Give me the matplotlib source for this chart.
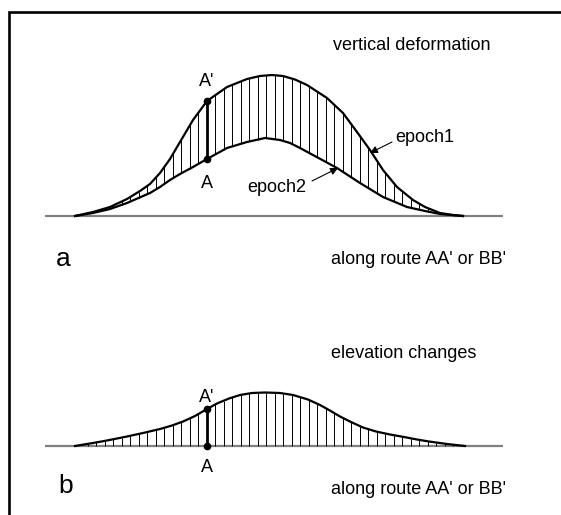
import numpy as np
import matplotlib
matplotlib.use("Agg")
import matplotlib.pyplot as plt
from matplotlib.lines import Line2D

plt.rcParams['font.family'] = ['Liberation Sans', 'DejaVu Sans']

# ---- data (distance along route, height above reference line) ----
route_epoch1 = [0, 18, 35, 52, 65, 75, 85, 95, 105, 118, 132, 152, 172, 185,
                197, 208, 220, 232, 252, 268, 282, 295, 308, 322, 338, 350,
                365, 378, 388]
epoch1 = [0, 4, 9, 17, 25, 32, 43, 57, 74, 96, 115, 129, 137, 140,
          141, 140, 136.5, 131, 118, 103, 84, 66, 46, 29, 16, 9,
          3, 1, 0]

route_epoch2 = [0, 18, 35, 52, 75, 85, 95, 105, 118, 132, 152, 172, 190,
                205, 215, 225, 238, 262, 285, 308, 332, 350, 365, 388]
epoch2 = [0, 3, 7, 13, 23, 29, 36, 42, 49, 57, 68, 74, 78,
          76, 73, 68, 61, 48, 33, 19, 9, 5, 2, 0]

route_elev = [0, 18, 32, 52, 68, 85, 97, 108, 120, 132, 142, 154, 165, 177,
              190, 205, 218, 233, 245, 254, 265, 276, 288, 301, 315, 329,
              342, 354, 372, 390]
elev_change = [0, 3, 5.5, 9.5, 13, 17, 20.5, 24.5, 30, 37, 42.5, 47.5, 51, 53,
               53.5, 53, 51, 46.5, 41, 36, 29.5, 24, 18.5, 14.5, 11.5, 9,
               6.5, 4.5, 2, 0]

point_A = 132
baseline_span = [-30, 428]

title_a = "vertical deformation"
title_b = "elevation changes"
xlabel = "along route AA' or BB'"

# ---- style ----
W, H, DPI = 561, 515, 100
hatch_step = 8.5
fs = 13
fs_big = 19

fig = plt.figure(figsize=(W / DPI, H / DPI), dpi=DPI)
fig.patch.set_facecolor('white')

def px_ax(top, bottom):
    return fig.add_axes([0, 1 - bottom / H, 1, (bottom - top) / H])

ax_a = px_ax(0, 260)
ax_a.set_xlim(-75, W - 75)
ax_a.set_ylim(-44, 216)
ax_b = px_ax(260, 515)
ax_b.set_xlim(-75, W - 75)
ax_b.set_ylim(-69, 186)
for ax in (ax_a, ax_b):
    ax.set_axis_off()

hatch_x = point_A + hatch_step * np.arange(-15, 31)

# panel a
ax_a.plot(baseline_span, [0, 0], color='#808080', lw=1.6, solid_capstyle='butt')
lo = np.interp(hatch_x, route_epoch2, epoch2)
hi = np.interp(hatch_x, route_epoch1, epoch1)
m = (hi - lo) > 0.8
ax_a.vlines(hatch_x[m], lo[m], hi[m], color='black', lw=0.7)
ax_a.plot(route_epoch1, epoch1, color='black', lw=1.6, solid_joinstyle='round')
ax_a.plot(route_epoch2, epoch2, color='black', lw=1.6, solid_joinstyle='round')
yA1 = np.interp(point_A, route_epoch1, epoch1)
yA2 = np.interp(point_A, route_epoch2, epoch2)
ax_a.plot([point_A, point_A], [yA2, yA1], color='black', lw=2.0,
          marker='o', markersize=4.5)
ax_a.text(point_A, yA1 + 19, "A'", ha='center', va='center', fontsize=fs)
ax_a.text(point_A, yA2 - 24, "A", ha='center', va='center', fontsize=fs)
ax_a.text(258, 171, title_a, ha='left', va='center', fontsize=fs)
ax_a.text(320, 79, "epoch1", ha='left', va='center', fontsize=fs)
ax_a.annotate('', xy=(295, 63), xytext=(317, 74),
              arrowprops=dict(arrowstyle='-|>', color='black', lw=0.8,
                              mutation_scale=11, shrinkA=0, shrinkB=0))
ax_a.text(172, 29, "epoch2", ha='left', va='center', fontsize=fs)
ax_a.annotate('', xy=(263, 48), xytext=(237, 35),
              arrowprops=dict(arrowstyle='-|>', color='black', lw=0.8,
                              mutation_scale=11, shrinkA=0, shrinkB=0))
ax_a.text(-19, -43, "a", ha='left', va='center', fontsize=fs_big)
ax_a.text(256, -43, xlabel, ha='left', va='center', fontsize=fs)

# panel b
ax_b.plot(baseline_span, [0, 0], color='#808080', lw=1.6, solid_capstyle='butt')
hb = np.interp(hatch_x, route_elev, elev_change)
mb = hb > 0.8
ax_b.vlines(hatch_x[mb], 0, hb[mb], color='black', lw=0.7)
ax_b.plot(route_elev, elev_change, color='black', lw=1.6, solid_joinstyle='round')
yB = np.interp(point_A, route_elev, elev_change)
ax_b.plot([point_A, point_A], [0, yB], color='black', lw=2.0,
          marker='o', markersize=4.5)
ax_b.text(point_A, yB + 12, "A'", ha='center', va='center', fontsize=fs)
ax_b.text(point_A, -22, "A", ha='center', va='center', fontsize=fs)
ax_b.text(256, 93, title_b, ha='left', va='center', fontsize=fs)
ax_b.text(-17, -40, "b", ha='left', va='center', fontsize=fs_big)
ax_b.text(256, -44, xlabel, ha='left', va='center', fontsize=fs)

# frame (left and top edges visible)
fx = 8.5 / W
fy = 1 - 11.5 / H
fig.add_artist(Line2D([fx, fx, 1.0], [0.0, fy, fy], transform=fig.transFigure,
                      color='black', lw=1.9, solid_joinstyle='miter'))

fig.savefig('out.png', dpi=DPI)
